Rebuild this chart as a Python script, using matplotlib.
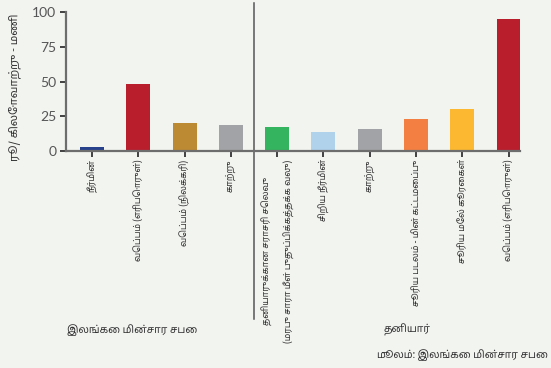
import matplotlib
matplotlib.use("Agg")
import matplotlib.pyplot as plt

# Tamil needs its own family; fall back to DejaVu for anything missing
TAMIL = ["Noto Sans Tamil", "Hind Madurai", "FreeSans", "DejaVu Sans"]
plt.rcParams["font.family"] = TAMIL

# --- data (Rs / kWh) ---
categories = [
    "நீர்மின்",
    "வெப்பம் (எரிபொருள்)",
    "வெப்பம் (நிலக்கரி)",
    "காற்று",
    "தனியாருக்கான சராசரி செலவு\n(மரபு சாரா மீள் புதுப்பிக்கத்தக்க வலு)",
    "சிறிய நீர்மின்",
    "காற்று",
    "சூரிய படலம் - மின் கட்டமைப்பு",
    "சூரிய மேல் கூரைகள்",
    "வெப்பம் (எரிபொருள்)",
]
costs = [3, 48, 20, 19, 17, 14, 16, 23, 30, 95]
colors = ["#27418c", "#b91e2d", "#bc8a32", "#a2a3a6", "#34b45f",
          "#b0d2eb", "#a2a3a6", "#f47f42", "#fcb830", "#b91e2d"]
groups = ["இலங்கை மின்சார சபை", "தனியார்"]
group_centers = [0.87, 6.8]
yticks = [0, 25, 50, 75, 100]
ylabel = "ரூ/ கிலோவாற்று - மணி"
source = "மூலம்:"
source_rest = " இலங்கை மின்சார சபை"

BG = "#f2f4f0"
TXT = "#333333"

fig = plt.figure(figsize=(5.51, 3.68), dpi=100, facecolor=BG)
ax = fig.add_axes([0.120, 0.5897, 0.824, 0.3775])
ax.set_facecolor(BG)

x = list(range(len(costs)))
ax.bar(x, costs, width=0.52, color=colors, zorder=2)

ax.set_xlim(-0.56, 9.25)
ax.set_ylim(0, 100)
ax.set_yticks(yticks)
ax.set_yticklabels([str(v) for v in yticks], fontsize=10,
                   family=["Lato", "DejaVu Sans"])
ax.set_xticks(x)
ax.set_xticklabels(categories, rotation=90, fontsize=6.3, color=TXT,
                   va="top", ha="center", linespacing=2.4)

for s in ["top", "right"]:
    ax.spines[s].set_visible(False)
for s in ["left", "bottom"]:
    ax.spines[s].set_color("#6d6d6d")
    ax.spines[s].set_linewidth(1.6)
ax.tick_params(axis="both", colors="#222222", length=4, width=1.2, pad=2)
ax.tick_params(axis="y", pad=3)
ax.tick_params(axis="x", labelcolor=TXT)
ax.tick_params(axis="y", labelcolor="#555555")

ax.set_ylabel(ylabel, fontsize=8, color=TXT)
ax.yaxis.set_label_coords(-0.10, 0.46)

# divider between the two groups
ax.axvline(3.5, ymin=-1.21, ymax=1.065, color="#555555", lw=1.1, clip_on=False)

# group labels under the tick labels
for name, cx in zip(groups, group_centers):
    ax.text(cx, -129, name, ha="center", va="center", fontsize=7.4, color=TXT)

# source line, right aligned; italic part placed left of the rest
rest = fig.text(0.995, 0.035, source_rest, ha="right", va="center",
                fontsize=7.4, color=TXT)
fig.canvas.draw()
bb = rest.get_window_extent()
fig.text(bb.x0 / fig.bbox.width, 0.035, source, ha="right", va="center",
         fontsize=7.4, style="italic", color=TXT)

fig.savefig("out.png", dpi=100, facecolor=BG)
